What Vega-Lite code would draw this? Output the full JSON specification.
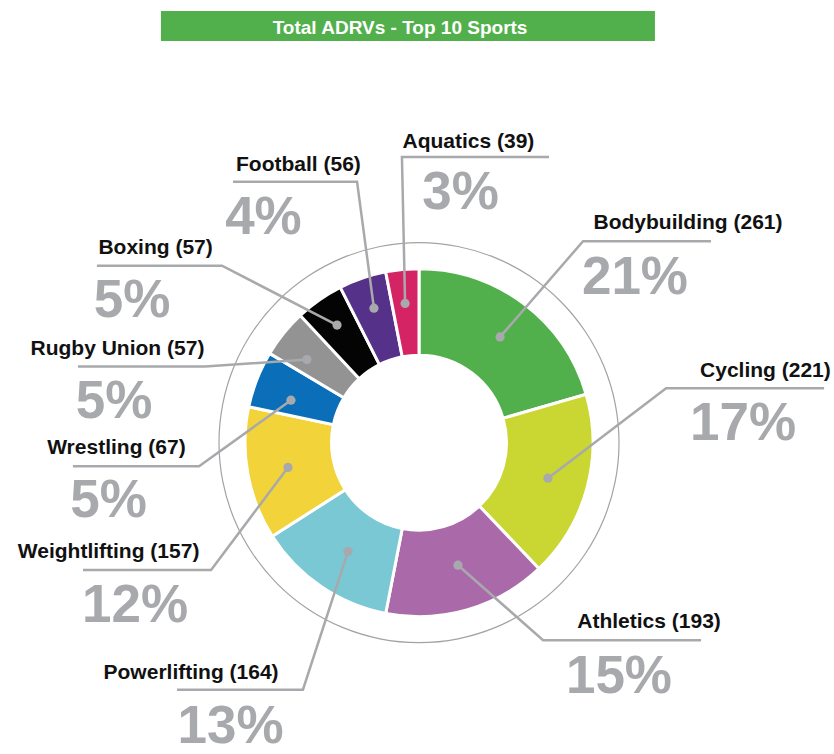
{
  "$schema": "https://vega.github.io/schema/vega-lite/v6.json",
  "width": 834,
  "height": 754,
  "padding": 0,
  "autosize": {"type": "fit", "contains": "padding"},
  "background": "white",
  "config": {"view": {"stroke": null}},
  "datasets": {
    "sports": [
      {"sport": "Bodybuilding", "count": 261, "share": "21%"},
      {"sport": "Cycling", "count": 221, "share": "17%"},
      {"sport": "Athletics", "count": 193, "share": "15%"},
      {"sport": "Powerlifting", "count": 164, "share": "13%"},
      {"sport": "Weightlifting", "count": 157, "share": "12%"},
      {"sport": "Wrestling", "count": 67, "share": "5%"},
      {"sport": "Rugby Union", "count": 57, "share": "5%"},
      {"sport": "Boxing", "count": 57, "share": "5%"},
      {"sport": "Football", "count": 56, "share": "4%"},
      {"sport": "Aquatics", "count": 39, "share": "3%"}
    ],
    "callouts": [
      {"sport": "Aquatics", "nameX": 28.4, "nameY": 171.3, "shareX": 23.9, "shareY": 136.2},
      {"sport": "Football", "nameX": -69.3, "nameY": 158.0, "shareX": -89.4, "shareY": 121.3},
      {"sport": "Boxing", "nameX": -151.4, "nameY": 109.8, "shareX": -164.9, "shareY": 73.0},
      {"sport": "Rugby Union", "nameX": -173.3, "nameY": 51.1, "shareX": -175.3, "shareY": 14.4},
      {"sport": "Wrestling", "nameX": -173.9, "nameY": -6.9, "shareX": -178.4, "shareY": -43.1},
      {"sport": "Weightlifting", "nameX": -178.4, "nameY": -67.2, "shareX": -163.2, "shareY": -104.6},
      {"sport": "Powerlifting", "nameX": -131.0, "nameY": -137.4, "shareX": -108.3, "shareY": -174.7},
      {"sport": "Athletics", "nameX": 132.2, "nameY": -108.0, "shareX": 114.9, "shareY": -145.4},
      {"sport": "Cycling", "nameX": 199.1, "nameY": 37.9, "shareX": 186.2, "shareY": 1.7},
      {"sport": "Bodybuilding", "nameX": 154.6, "nameY": 124.1, "shareX": 124.1, "shareY": 86.2}
    ],
    "leaders": [
      {"sport": "Aquatics", "step": 0, "x": -8.0, "y": 81.0},
      {"sport": "Aquatics", "step": 1, "x": -9.8, "y": 166.1},
      {"sport": "Aquatics", "step": 2, "x": 74.7, "y": 166.1},
      {"sport": "Football", "step": 0, "x": -25.9, "y": 78.2},
      {"sport": "Football", "step": 1, "x": -35.6, "y": 151.7},
      {"sport": "Football", "step": 2, "x": -106.9, "y": 151.7},
      {"sport": "Boxing", "step": 0, "x": -47.1, "y": 68.4},
      {"sport": "Boxing", "step": 1, "x": -113.2, "y": 102.9},
      {"sport": "Boxing", "step": 2, "x": -185.1, "y": 102.9},
      {"sport": "Rugby Union", "step": 0, "x": -64.4, "y": 48.3},
      {"sport": "Rugby Union", "step": 1, "x": -123.0, "y": 44.3},
      {"sport": "Rugby Union", "step": 2, "x": -196.0, "y": 44.3},
      {"sport": "Wrestling", "step": 0, "x": -73.6, "y": 24.7},
      {"sport": "Wrestling", "step": 1, "x": -126.4, "y": -13.8},
      {"sport": "Wrestling", "step": 2, "x": -198.9, "y": -13.8},
      {"sport": "Weightlifting", "step": 0, "x": -75.3, "y": -14.4},
      {"sport": "Weightlifting", "step": 1, "x": -119.5, "y": -74.1},
      {"sport": "Weightlifting", "step": 2, "x": -193.1, "y": -74.1},
      {"sport": "Powerlifting", "step": 0, "x": -40.8, "y": -63.2},
      {"sport": "Powerlifting", "step": 1, "x": -66.7, "y": -143.7},
      {"sport": "Powerlifting", "step": 2, "x": -139.1, "y": -143.7},
      {"sport": "Athletics", "step": 0, "x": 22.4, "y": -71.3},
      {"sport": "Athletics", "step": 1, "x": 71.3, "y": -114.9},
      {"sport": "Athletics", "step": 2, "x": 162.1, "y": -114.9},
      {"sport": "Cycling", "step": 0, "x": 74.1, "y": -20.7},
      {"sport": "Cycling", "step": 1, "x": 142.0, "y": 31.6},
      {"sport": "Cycling", "step": 2, "x": 232.8, "y": 31.6},
      {"sport": "Bodybuilding", "step": 0, "x": 46.6, "y": 61.5},
      {"sport": "Bodybuilding", "step": 1, "x": 94.3, "y": 117.2},
      {"sport": "Bodybuilding", "step": 2, "x": 167.8, "y": 117.2}
    ]
  },
  "layer": [
    {
      "data": {"values": [{"title": "Total ADRVs - Top 10 Sports"}]},
      "mark": {"type": "rect", "color": "#52b04c"},
      "encoding": {
        "x": {"datum": -148.3, "type": "quantitative", "scale": {"domain": [-240.8, 238.5], "nice": false, "zero": false}, "axis": null},
        "x2": {"datum": 135.6},
        "y": {"datum": 251.1, "type": "quantitative", "scale": {"domain": [-175.9, 257.5], "nice": false, "zero": false}, "axis": null},
        "y2": {"datum": 233.6}
      }
    },
    {
      "data": {"values": [{"title": "Total ADRVs - Top 10 Sports"}]},
      "mark": {"type": "text", "color": "white", "font": "Liberation Sans", "fontWeight": "bold", "fontSize": 19, "align": "center", "baseline": "alphabetic"},
      "encoding": {
        "x": {"datum": -10.9, "type": "quantitative", "axis": null},
        "y": {"datum": 237.6, "type": "quantitative", "axis": null},
        "text": {"field": "title"}
      }
    },
    {
      "data": {"values": [{"ring": "outline"}]},
      "mark": {"type": "arc", "theta": 0, "theta2": 6.2832, "radius": 200.6, "radius2": 199.4, "color": "#a3a3a3"},
      "encoding": {
        "x": {"datum": 0, "type": "quantitative", "axis": null},
        "y": {"datum": 0, "type": "quantitative", "axis": null}
      }
    },
    {
      "data": {"name": "sports"},
      "transform": [{"window": [{"op": "row_number", "as": "rank"}]}],
      "mark": {"type": "arc", "radius": 174, "radius2": 87.5, "stroke": "white", "strokeWidth": 3},
      "encoding": {
        "x": {"datum": 0, "type": "quantitative", "axis": null},
        "y": {"datum": 0, "type": "quantitative", "axis": null},
        "theta": {"field": "count", "type": "quantitative", "stack": true},
        "order": {"field": "rank", "type": "quantitative", "sort": "ascending"},
        "color": {
          "field": "sport",
          "type": "nominal",
          "legend": null,
          "scale": {
            "domain": ["Bodybuilding", "Cycling", "Athletics", "Powerlifting", "Weightlifting", "Wrestling", "Rugby Union", "Boxing", "Football", "Aquatics"],
            "range": ["#52b04c", "#cad632", "#aa6aaa", "#7bc8d5", "#f2d33a", "#0a6fb8", "#939393", "#040404", "#553189", "#d52463"]
          }
        }
      }
    },
    {
      "data": {"name": "leaders"},
      "mark": {"type": "line", "color": "#a7a9ac", "strokeWidth": 2.5},
      "encoding": {
        "x": {"field": "x", "type": "quantitative", "axis": null},
        "y": {"field": "y", "type": "quantitative", "axis": null},
        "detail": {"field": "sport"},
        "order": {"field": "step"}
      }
    },
    {
      "data": {"name": "leaders"},
      "transform": [{"filter": "datum.step == 0"}],
      "mark": {"type": "point", "filled": true, "opacity": 1, "color": "#a7a9ac", "size": 85},
      "encoding": {
        "x": {"field": "x", "type": "quantitative", "axis": null},
        "y": {"field": "y", "type": "quantitative", "axis": null}
      }
    },
    {
      "data": {"name": "callouts"},
      "transform": [
        {"lookup": "sport", "from": {"data": {"name": "sports"}, "key": "sport", "fields": ["count", "share"]}},
        {"calculate": "datum.sport + ' (' + datum.count + ')'", "as": "label"}
      ],
      "mark": {"type": "text", "color": "#111111", "font": "Liberation Sans", "fontWeight": "bold", "fontSize": 21, "align": "center", "baseline": "alphabetic"},
      "encoding": {
        "x": {"field": "nameX", "type": "quantitative", "axis": null},
        "y": {"field": "nameY", "type": "quantitative", "axis": null},
        "text": {"field": "label"}
      }
    },
    {
      "data": {"name": "callouts"},
      "transform": [
        {"lookup": "sport", "from": {"data": {"name": "sports"}, "key": "sport", "fields": ["count", "share"]}}
      ],
      "mark": {"type": "text", "color": "#a7a9ac", "font": "Liberation Sans", "fontWeight": "bold", "fontSize": 53, "align": "center", "baseline": "alphabetic"},
      "encoding": {
        "x": {"field": "shareX", "type": "quantitative", "axis": null},
        "y": {"field": "shareY", "type": "quantitative", "axis": null},
        "text": {"field": "share"}
      }
    }
  ]
}
